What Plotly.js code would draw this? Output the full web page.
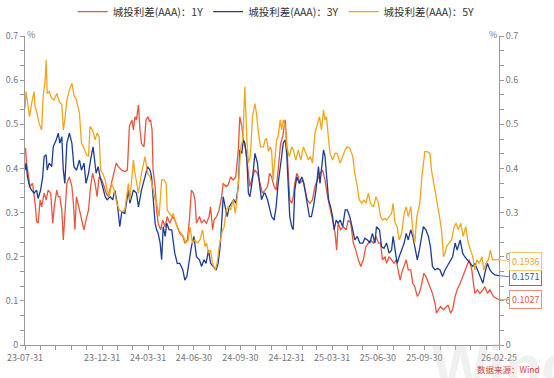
<!DOCTYPE html>
<html>
<head>
<meta charset="utf-8">
<script src="https://cdn.plot.ly/plotly-3.0.1.min.js"></script>
<style>html,body{margin:0;padding:0;background:#fff;}#chart{width:554px;height:378px;}</style>
</head>
<body>
<div id="chart"></div>
<script>
// ---- data (days since 2023-07-31, spread in %) ----
const startDate = "2023-07-31";
const endDate = "2026-02-25";
const seriesNames = ["城投利差(AAA)：1Y", "城投利差(AAA)：3Y", "城投利差(AAA)：5Y"];

const days1Y = [0,1,3,7,10,15,20,23,26,30,33,38,42,46,51,55,58,63,66,69,73,76,79,83,88,93,96,99,102,108,112,117,121,126,130,134,139,143,147,152,157,161,165,170,175,181,185,192,198,203,207,212,215,218,221,225,228,231,236,
240,244,247,249,252,254,258,261,264,269,273,278,282,287,293,297,302,307,313,317,322,326,330,334,337,340,346,350,355,360,365,368,372,375,380,385,390,393,399,403,408,413,418,423,426,430,433,438,443,446,451,456,461,466,471,476,
481,485,489,494,498,502,507,511,516,519,522,525,529,532,535,539,542,545,551,555,560,565,570,575,580,585,590,595,600,605,610,615,618,621,626,631,637,641,646,651,656,661,666,671,676,681,685,691,696,701,705,709,714,
717,722,727,732,736,740,744,747,752,756,760,765,769,773,778,782,787,791,795,800,804,808,813,816,820,824,830,835,839,844,848,853,857,863,868,872,877,881,886,889,892,897,902,908,912,917,922,929,940];
const spread1Y = [0.442,0.446,0.412,0.374,0.359,0.366,0.321,0.280,0.276,0.329,0.313,0.344,0.329,0.351,0.344,0.276,0.313,0.351,0.336,0.336,0.306,0.238,0.291,0.366,0.381,0.359,0.321,0.261,0.336,0.306,0.291,0.261,0.283,0.306,0.359,0.389,0.366,0.336,0.381,0.374,0.359,0.344,0.336,0.359,0.381,0.412,0.404,0.396,0.393,0.396,0.495,0.510,0.487,0.517,0.510,0.544,0.487,0.457,0.449,
0.510,0.517,0.506,0.510,0.487,0.396,0.359,0.306,0.276,0.261,0.283,0.268,0.291,0.276,0.291,0.283,0.268,0.253,0.246,0.231,0.238,0.283,0.351,0.344,0.329,0.276,0.291,0.276,0.283,0.276,0.291,0.313,0.261,0.283,0.291,0.306,0.336,0.366,0.359,0.363,0.381,0.374,0.381,0.442,0.517,0.495,0.465,0.442,0.389,0.359,0.381,0.396,0.389,0.366,0.344,0.351,
0.359,0.389,0.381,0.359,0.351,0.396,0.457,0.472,0.510,0.457,0.396,0.329,0.321,0.336,0.366,0.389,0.381,0.366,0.374,0.351,0.329,0.321,0.329,0.359,0.374,0.389,0.396,0.374,0.336,0.313,0.283,0.253,0.215,0.276,0.261,0.268,0.261,0.283,0.276,0.231,0.215,0.193,0.178,0.193,0.223,0.231,0.238,0.231,0.246,0.231,0.231,0.193,0.200,
0.185,0.200,0.193,0.185,0.193,0.170,0.147,0.163,0.178,0.193,0.170,0.170,0.140,0.132,0.110,0.117,0.140,0.163,0.155,0.140,0.125,0.117,0.095,0.072,0.080,0.087,0.080,0.087,0.091,0.072,0.080,0.110,0.125,0.140,0.155,0.170,0.185,0.193,0.170,0.140,0.117,0.125,0.117,0.125,0.132,0.117,0.125,0.110,0.1027];

const days3Y = [0,2,5,9,13,18,23,26,31,35,38,42,44,48,53,56,62,66,69,73,76,79,83,88,93,97,102,108,112,117,121,126,130,135,141,145,149,154,159,163,169,174,178,183,188,192,198,205,208,215,221,225,231,238,
243,248,251,254,258,261,264,268,271,274,278,281,286,291,294,297,302,307,313,317,321,326,330,335,340,346,350,355,359,364,368,373,379,383,387,390,393,397,401,405,410,414,418,423,426,430,433,436,440,443,446,451,456,461,465,469,474,
476,481,485,489,494,498,502,506,509,512,516,519,522,525,529,532,535,539,544,549,553,559,564,568,572,577,582,585,588,592,595,598,602,606,610,613,617,621,625,630,635,639,644,650,654,659,664,670,674,679,684,689,694,697,703,707,712,
717,722,727,730,734,738,742,747,752,756,760,765,769,773,778,782,787,790,795,800,804,808,813,818,823,828,833,837,843,848,853,857,863,868,872,877,882,888,892,897,902,908,912,917,922,927,932,940];
const spread3Y = [0.396,0.412,0.381,0.359,0.351,0.344,0.351,0.332,0.351,0.381,0.427,0.431,0.396,0.412,0.404,0.449,0.465,0.480,0.457,0.472,0.396,0.366,0.457,0.480,0.457,0.404,0.396,0.419,0.396,0.412,0.366,0.389,0.419,0.449,0.389,0.404,0.381,0.359,0.336,0.329,0.336,0.329,0.351,0.321,0.268,0.302,0.298,0.351,0.321,0.351,0.344,0.313,0.351,0.381,
0.404,0.396,0.381,0.336,0.276,0.261,0.253,0.231,0.193,0.268,0.246,0.276,0.261,0.261,0.238,0.208,0.185,0.185,0.170,0.147,0.155,0.200,0.223,0.246,0.200,0.193,0.178,0.193,0.185,0.215,0.185,0.178,0.170,0.185,0.223,0.276,0.336,0.313,0.291,0.313,0.321,0.329,0.321,0.359,0.442,0.434,0.465,0.457,0.419,0.344,0.336,0.374,0.434,0.412,0.366,0.329,0.344,
0.344,0.329,0.306,0.291,0.283,0.313,0.366,0.396,0.427,0.457,0.465,0.434,0.351,0.291,0.268,0.261,0.351,0.381,0.366,0.381,0.366,0.321,0.291,0.291,0.313,0.351,0.404,0.366,0.396,0.442,0.427,0.381,0.329,0.313,0.291,0.261,0.283,0.276,0.283,0.268,0.306,0.306,0.291,0.261,0.238,0.246,0.231,0.231,0.242,0.238,0.231,0.253,0.231,0.268,0.261,0.223,0.219,
0.231,0.208,0.215,0.246,0.215,0.185,0.200,0.215,0.231,0.253,0.238,0.261,0.246,0.223,0.193,0.215,0.253,0.268,0.261,0.246,0.223,0.178,0.170,0.174,0.170,0.155,0.170,0.178,0.193,0.200,0.231,0.215,0.238,0.208,0.200,0.193,0.185,0.178,0.185,0.170,0.155,0.140,0.163,0.185,0.170,0.163,0.159,0.1571];

const days5Y = [0,2,5,9,13,18,20,24,28,33,36,40,42,44,48,53,58,63,68,73,76,79,83,88,93,97,102,108,112,117,122,126,129,134,139,143,147,150,154,159,163,167,172,177,182,187,192,198,205,208,215,218,225,231,238,
243,248,253,258,261,266,271,276,280,282,286,291,294,299,304,309,314,319,324,327,332,337,342,347,352,357,360,364,368,372,377,381,385,390,395,399,403,408,413,417,421,425,428,432,436,440,443,447,451,456,459,463,467,473,
476,479,483,486,489,492,496,499,502,506,509,512,516,519,524,529,532,537,542,547,552,557,562,566,570,575,580,584,588,592,595,598,602,605,610,615,619,625,630,635,639,644,650,654,658,663,668,672,676,681,685,691,696,701,705,709,714,
717,722,727,730,734,738,742,747,752,756,760,765,769,773,777,780,783,787,790,793,798,803,806,811,816,822,826,830,833,836,841,846,851,855,859,864,869,874,879,884,888,892,896,901,906,910,914,919,923,927,932,940];
const spread5Y = [0.536,0.574,0.551,0.517,0.547,0.574,0.540,0.525,0.502,0.487,0.563,0.600,0.646,0.570,0.574,0.559,0.555,0.570,0.551,0.544,0.487,0.510,0.555,0.578,0.593,0.566,0.555,0.525,0.457,0.446,0.431,0.427,0.495,0.487,0.465,0.480,0.472,0.397,0.389,0.374,0.351,0.336,0.366,0.351,0.321,0.306,0.302,0.306,0.366,0.329,0.419,0.389,0.344,0.389,0.427,
0.389,0.381,0.359,0.329,0.321,0.291,0.374,0.374,0.366,0.306,0.298,0.291,0.298,0.276,0.261,0.253,0.246,0.231,0.238,0.268,0.231,0.238,0.231,0.238,0.261,0.223,0.231,0.208,0.215,0.185,0.170,0.185,0.223,0.253,0.268,0.306,0.313,0.306,0.329,0.298,0.336,0.397,0.449,0.465,0.585,0.465,0.412,0.427,0.517,0.547,0.525,0.480,0.449,0.449,
0.465,0.468,0.438,0.449,0.442,0.374,0.427,0.465,0.472,0.510,0.487,0.510,0.495,0.449,0.427,0.449,0.442,0.419,0.442,0.419,0.449,0.434,0.419,0.427,0.412,0.480,0.502,0.517,0.487,0.532,0.510,0.517,0.465,0.434,0.419,0.434,0.434,0.412,0.427,0.442,0.449,0.446,0.427,0.389,0.366,0.329,0.321,0.329,0.321,0.344,0.321,0.313,0.336,0.321,0.291,0.283,0.287,
0.283,0.291,0.298,0.321,0.276,0.268,0.238,0.253,0.298,0.313,0.291,0.313,0.261,0.231,0.291,0.306,0.321,0.381,0.412,0.438,0.438,0.434,0.397,0.366,0.336,0.291,0.261,0.200,0.208,0.223,0.231,0.238,0.268,0.276,0.261,0.276,0.246,0.268,0.231,0.215,0.200,0.170,0.193,0.185,0.200,0.170,0.185,0.193,0.215,0.193,0.193,0.1936];

const tickDates = ["2023-07-31","2023-12-31","2024-03-31","2024-06-30","2024-09-30","2024-12-31","2025-03-31","2025-06-30","2025-09-30","2026-02-25"];
const tickLabels = ["23-07-31","23-12-31","24-03-31","24-06-30","24-09-30","24-12-31","25-03-31","25-06-30","25-09-30","26-02-25"];
const yTickVals = [0,0.1,0.2,0.3,0.4,0.5,0.6,0.7];
const yTickText = ["0","0.1","0.2","0.3","0.4","0.5","0.6","0.7"];
const unitLabel = "%";
const sourceText = "数据来源：Wind";
const watermarkText = "Wind";

// ---- helpers ----
const t0 = Date.UTC(2023, 6, 31);
const toDate = d => new Date(t0 + d * 86400000).toISOString().slice(0, 10);

// month-end minor ticks
const minorTicks = [];
for (let y = 2023, m = 7; ; ) {
  const me = new Date(Date.UTC(y, m + 1, 0)).toISOString().slice(0, 10);
  if (me > endDate) break;
  minorTicks.push(me);
  m++; if (m > 11) { m = 0; y++; }
}

const colors = ["#E9553B", "#1C3D94", "#F1A51B"];
const boxBorder = ["#EE8F80", "#5A7FC0", "#F3C666"];
const boxText = ["#E25A45", "#2F56A6", "#E9A52E"];
const fontCJK = '"Noto Sans CJK SC", "Microsoft YaHei", sans-serif';

const daysAll = [days1Y, days3Y, days5Y];
const valsAll = [spread1Y, spread3Y, spread5Y];

const traces = daysAll.map((ds, i) => ({
  type: "scatter", mode: "lines",
  name: seriesNames[i],
  x: ds.map(toDate), y: valsAll[i],
  line: { color: colors[i], width: 1.3 },
  hoverinfo: "skip"
}));
traces.push({ type: "scatter", mode: "lines", x: [], y: [], yaxis: "y2", showlegend: false, hoverinfo: "skip" });

const annotations = [
  { xref: "paper", yref: "paper", x: 1.013, y: -0.068, text: watermarkText, showarrow: false,
    font: { family: "Liberation Sans, Arial, sans-serif", size: 60, color: "rgba(200,200,200,0.28)", weight: 700 },
    xanchor: "center", yanchor: "middle" }
];
valsAll.forEach((vs, i) => annotations.push({
  x: endDate, y: vs[vs.length - 1], xref: "x", yref: "y",
  text: vs[vs.length - 1].toFixed(4),
  showarrow: true, arrowhead: 0, arrowwidth: 1, arrowcolor: boxBorder[i],
  ax: 10, ay: [0, 1, 2][i], xanchor: "left",
  bgcolor: "#fff", bordercolor: boxBorder[i], borderwidth: 1, borderpad: 2,
  font: { family: fontCJK, size: 9, color: boxText[i] }
}));
annotations.push(
  { xref: "paper", yref: "paper", x: 0, y: 1, yshift: 10, text: unitLabel, showarrow: false,
    font: { family: fontCJK, size: 9, color: "#777" } },
  { xref: "paper", yref: "paper", x: 1, y: 1, yshift: 10, text: unitLabel, showarrow: false,
    font: { family: fontCJK, size: 9, color: "#777" } },
  { xref: "paper", yref: "paper", x: 1.09, y: -0.078, text: sourceText, showarrow: false,
    xanchor: "right", yanchor: "middle",
    font: { family: fontCJK, size: 8.5, color: "#D6402E" } }
);

const axisCommon = {
  showgrid: false, zeroline: false, showline: true, linecolor: "#999", linewidth: 1,
  ticks: "outside", ticklen: 4, tickcolor: "#999", tickwidth: 1,
  tickfont: { family: fontCJK, size: 9, color: "#777" }
};

const layout = {
  width: 554, height: 378,
  margin: { l: 25, r: 55, t: 36, b: 33, pad: 0, autoexpand: false },
  paper_bgcolor: "#fff", plot_bgcolor: "#fff",
  showlegend: true,
  legend: {
    orientation: "h", xref: "paper", yref: "paper",
    x: 0.53, xanchor: "center", y: 1.126, yanchor: "top",
    font: { family: fontCJK, size: 10.5, color: "#333" },
    itemwidth: 30, bgcolor: "rgba(0,0,0,0)"
  },
  xaxis: Object.assign({}, axisCommon, {
    type: "date", range: [startDate, endDate],
    tickmode: "array", tickvals: tickDates, ticktext: tickLabels,
    minor: { tickvals: minorTicks, ticks: "outside", ticklen: 4, tickcolor: "#999" }
  }),
  yaxis: Object.assign({}, axisCommon, {
    range: [0, 0.7], tickmode: "array", tickvals: yTickVals, ticktext: yTickText,
    minor: { dtick: 0.1 / 3, tick0: 0, ticks: "outside", ticklen: 4, tickcolor: "#999" }
  }),
  yaxis2: Object.assign({}, axisCommon, {
    overlaying: "y", side: "right", range: [0, 0.7],
    tickmode: "array", tickvals: yTickVals, ticktext: yTickText,
    minor: { dtick: 0.1 / 3, tick0: 0, ticks: "outside", ticklen: 4, tickcolor: "#999" }
  }),
  annotations: annotations
};

Plotly.newPlot("chart", traces, layout, { displayModeBar: false, staticPlot: true });
</script>
</body>
</html>
